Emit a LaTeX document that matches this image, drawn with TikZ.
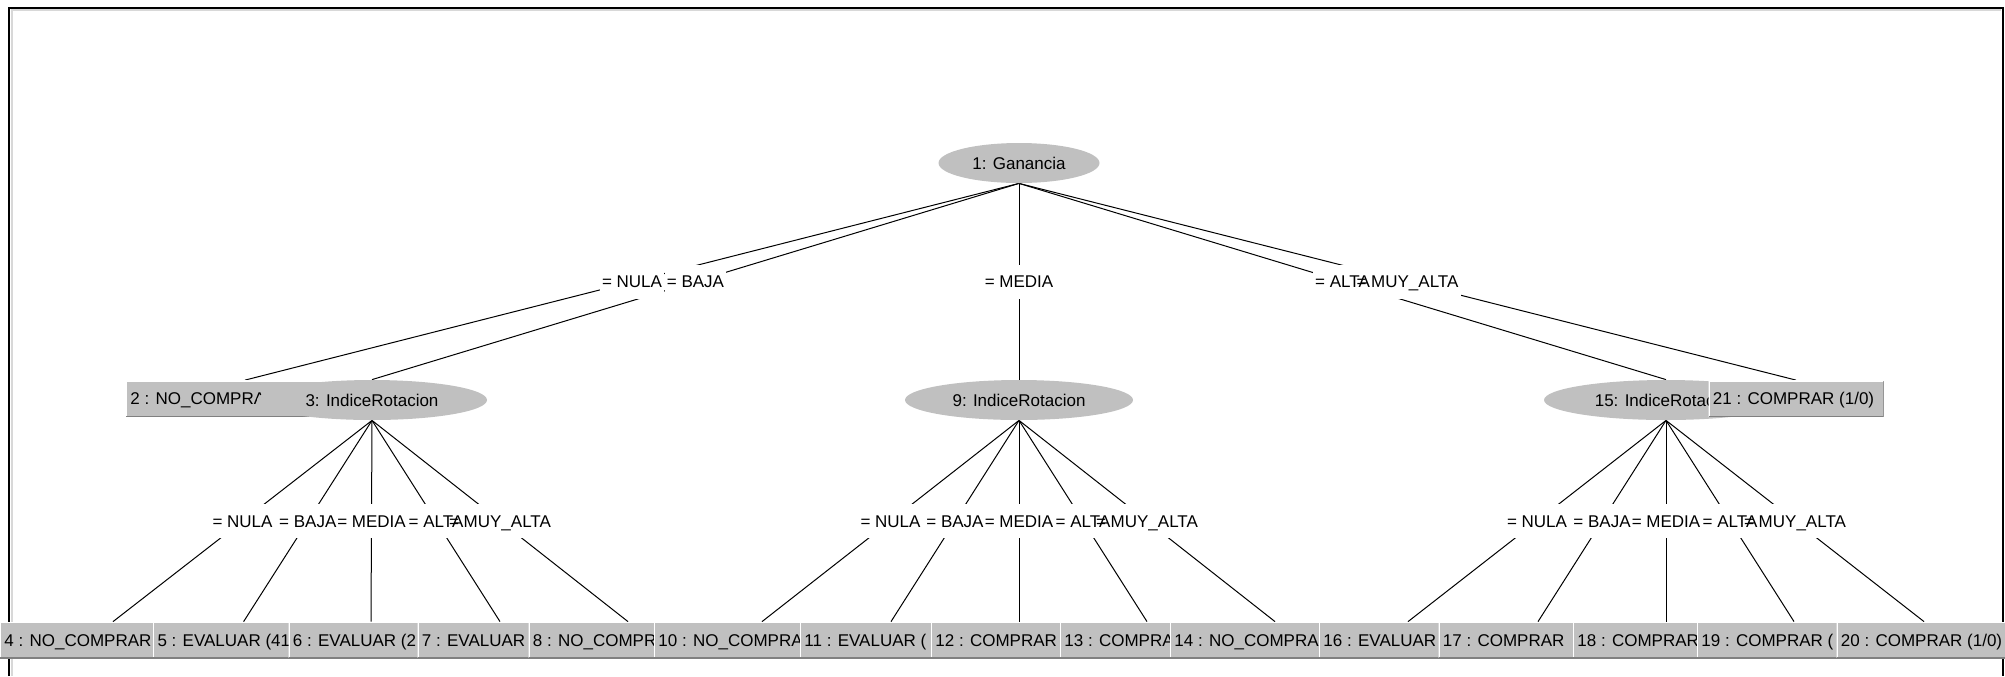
\documentclass[tikz,border=0pt]{standalone}
\usepackage{fontspec}
\setmainfont{Liberation Sans}
\usetikzlibrary{shapes.geometric}
\definecolor{nodegray}{HTML}{C0C0C0}
\definecolor{shadegray}{HTML}{808080}
\definecolor{framegray}{HTML}{D8D8D8}
\pgfdeclarelayer{bg}
\pgfsetlayers{bg,main}

\tikzset{
  every node/.style={font=\fontsize{8.5pt}{10pt}\selectfont},
  ell/.style={ellipse, fill=nodegray, inner sep=0pt, minimum height=20pt,
    text height=6.1pt, text depth=0pt},
  leaf/.style={rectangle, fill=nodegray, inner sep=0pt, minimum height=18pt,
    path picture={
      \draw[white, line width=1pt]
        (path picture bounding box.south west) -- (path picture bounding box.north west)
        -- (path picture bounding box.north east);
      \draw[shadegray, line width=1pt]
        (path picture bounding box.north east) -- (path picture bounding box.south east)
        -- (path picture bounding box.south west);
      \node[anchor=west, inner sep=0pt, minimum width=0pt, minimum height=0pt,
            text height=6.1pt, text depth=0pt]
        at ([xshift=2pt]path picture bounding box.west) {#1};
    }},
  edge line/.style={line width=0.5pt, black},
  lblbg/.style={fill=white, inner xsep=1.2pt, inner ysep=0pt, minimum height=17pt,
    text height=6.1pt, text depth=0pt},
  lbltx/.style={inner sep=0pt, text height=6.1pt, text depth=0pt},
}

\begin{document}
\begin{tikzpicture}[x=0.5pt, y=-0.5pt]
\useasboundingbox (0,0) rectangle (2005,676);

% tree nodes
\node[ell, minimum width=80.5pt] (n1) at (1019,163) {1: Ganancia};
\node[leaf={2 : NO\_COMPRAR}, minimum width=119pt] (n2) at (245,398.5) {};
\node[ell, minimum width=115pt] (n3) at (372,400) {3: IndiceRotacion};
\node[ell, minimum width=114pt] (n9) at (1019,400) {9: IndiceRotacion};
\node[ell, minimum width=122pt] (n15) at (1666,400) {15: IndiceRotacion};
\node[leaf={21 : COMPRAR (1/0)}, minimum width=87.5pt] (n21) at (1796,398.5) {};

% leaves
\node[leaf={4 : NO\_COMPRAR}, minimum width=113pt] (n4) at (113,640) {};
\node[leaf={5 : EVALUAR (41}, minimum width=90.5pt] (n5) at (243.6,640) {};
\node[leaf={6 : EVALUAR (2}, minimum width=82.5pt] (n6) at (371,640) {};
\node[leaf={7 : EVALUAR}, minimum width=82.5pt] (n7) at (500,640) {};
\node[leaf={8 : NO\_COMPRAR}, minimum width=99.5pt] (n8) at (628,640) {};
\node[leaf={10 : NO\_COMPRAR}, minimum width=108pt] (n10) at (762,640) {};
\node[leaf={11 : EVALUAR (}, minimum width=91pt] (n11) at (891,640) {};
\node[leaf={12 : COMPRAR}, minimum width=88pt] (n12) at (1019,640) {};
\node[leaf={13 : COMPRAR}, minimum width=87pt] (n13) at (1147,640) {};
\node[leaf={14 : NO\_COMPRAR}, minimum width=105pt] (n14) at (1275,640) {};
\node[leaf={16 : EVALUAR}, minimum width=89pt] (n16) at (1408,640) {};
\node[leaf={17 : COMPRAR}, minimum width=99.5pt] (n17) at (1538,640) {};
\node[leaf={18 : COMPRAR}, minimum width=93pt] (n18) at (1666,640) {};
\node[leaf={19 : COMPRAR (}, minimum width=97pt] (n19) at (1794,640) {};
\node[leaf={20 : COMPRAR (1/0)}, minimum width=87.5pt] (n20) at (1924,640) {};

\begin{pgfonlayer}{bg}
  % panel frame
  \draw[framegray, line width=1pt] (11.5,676) -- (11.5,9.5) -- (2001,9.5);
  \draw[line width=1pt] (9,676) -- (9,7.5) -- (2003,7.5) -- (2003,676);

  % connectors
  \foreach \a/\b in {n1/n2,n1/n3,n1/n9,n1/n15,n1/n21,
                     n3/n4,n3/n5,n3/n6,n3/n7,n3/n8,
                     n9/n10,n9/n11,n9/n12,n9/n13,n9/n14,
                     n15/n16,n15/n17,n15/n18,n15/n19,n15/n20}
    \draw[edge line] (\a.south) -- (\b.north);

  % connector labels: white backgrounds first, then the texts
  \foreach \a/\b/\t in {n1/n2/{= NULA},n1/n3/{= BAJA},n1/n9/{= MEDIA},n1/n15/{= ALTA},n1/n21/{= MUY\_ALTA},
                        n3/n4/{= NULA},n3/n5/{= BAJA},n3/n6/{= MEDIA},n3/n7/{= ALTA},n3/n8/{= MUY\_ALTA},
                        n9/n10/{= NULA},n9/n11/{= BAJA},n9/n12/{= MEDIA},n9/n13/{= ALTA},n9/n14/{= MUY\_ALTA},
                        n15/n16/{= NULA},n15/n17/{= BAJA},n15/n18/{= MEDIA},n15/n19/{= ALTA},n15/n20/{= MUY\_ALTA}}
    \path (\a.south) -- (\b.north) node[midway, lblbg] {\phantom{\t}};
  \foreach \a/\b/\t in {n1/n2/{= NULA},n1/n3/{= BAJA},n1/n9/{= MEDIA},n1/n15/{= ALTA},n1/n21/{= MUY\_ALTA},
                        n3/n4/{= NULA},n3/n5/{= BAJA},n3/n6/{= MEDIA},n3/n7/{= ALTA},n3/n8/{= MUY\_ALTA},
                        n9/n10/{= NULA},n9/n11/{= BAJA},n9/n12/{= MEDIA},n9/n13/{= ALTA},n9/n14/{= MUY\_ALTA},
                        n15/n16/{= NULA},n15/n17/{= BAJA},n15/n18/{= MEDIA},n15/n19/{= ALTA},n15/n20/{= MUY\_ALTA}}
    \path (\a.south) -- (\b.north) node[midway, lbltx] {\t};
\end{pgfonlayer}
\end{tikzpicture}
\end{document}
